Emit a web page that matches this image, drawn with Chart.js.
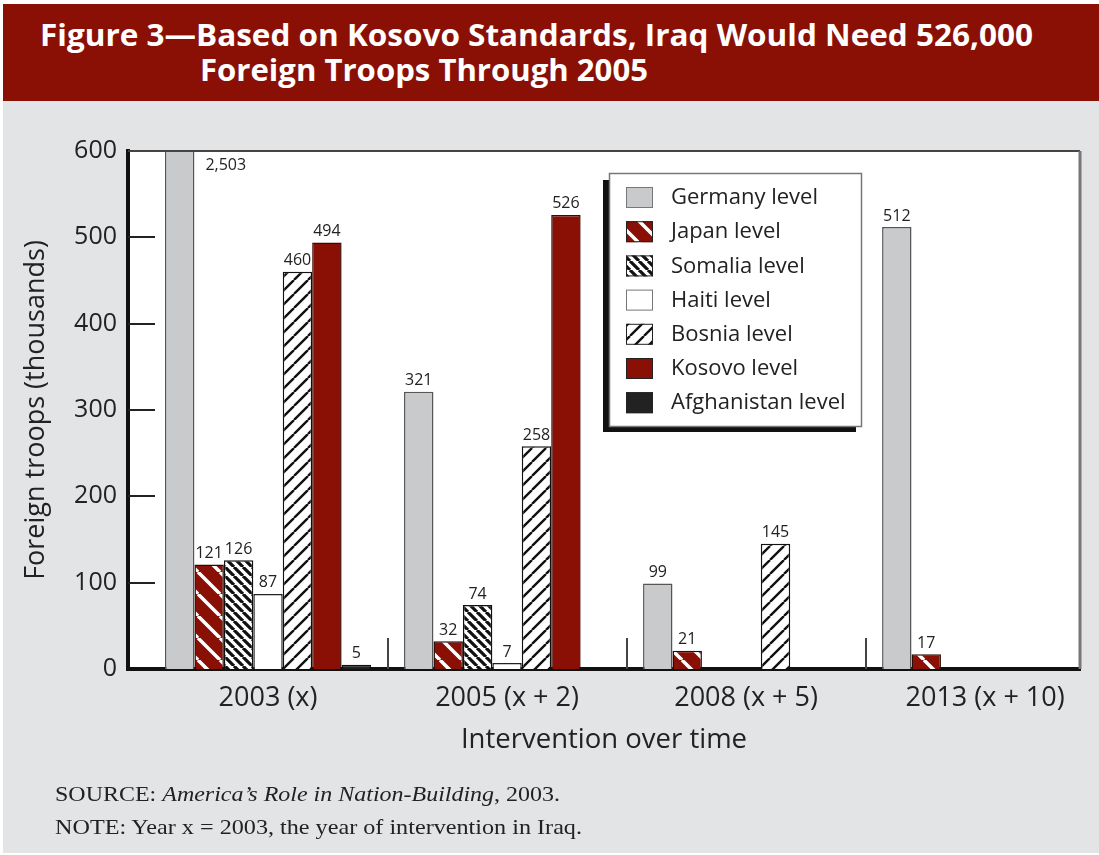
<!DOCTYPE html>
<html><head><meta charset="utf-8">
<script src="https://cdn.jsdelivr.net/npm/chart.js@4.4.1/dist/chart.umd.min.js"></script>
<style>
html,body{margin:0;padding:0;}
body{width:1099px;height:855px;background:#ffffff;position:relative;overflow:hidden;font-family:"Open Sans",sans-serif;}
#bg{position:absolute;left:3px;top:100px;width:1096px;height:753px;background:#E3E4E5;}
#banner{position:absolute;left:3px;top:4px;width:1096px;height:97px;background:#8A1005;}
.t{position:absolute;color:#fff;font:bold 30px/30px "Open Sans",sans-serif;white-space:nowrap;transform-origin:0 0;}
#c{position:absolute;left:0;top:0;}
.note{position:absolute;left:55px;font:22px/22px "Liberation Serif",serif;color:#222;white-space:nowrap;transform-origin:0 0;}
</style></head>
<body>
<div id="bg"></div>
<div id="banner"></div>
<span class="t" id="t1" style="left:40px;top:20px">Figure 3—Based on Kosovo Standards, Iraq Would Need 526,000</span>
<span class="t" id="t2" style="left:200px;top:55px">Foreign Troops Through 2005</span>
<canvas id="c" width="1099" height="855"></canvas>
<div class="note" id="n1" style="top:783px">SOURCE: <i>America’s Role in Nation-Building</i>, 2003.</div>
<div class="note" id="n2" style="top:816px">NOTE: Year x = 2003, the year of intervention in Iraq.</div>
<script>
// ---- data ----
const categories = ['2003 (x)', '2005 (x + 2)', '2008 (x + 5)', '2013 (x + 10)'];
const seriesNames = ['Germany level', 'Japan level', 'Somalia level', 'Haiti level', 'Bosnia level', 'Kosovo level', 'Afghanistan level'];
const germany = [2503, 321, 99, 512];
const japan = [121, 32, 21, 17];
const somalia = [126, 74, null, null];
const haiti = [87, 7, null, null];
const bosnia = [460, 258, 145, null];
const kosovo = [494, 526, null, null];
const afghanistan = [5, null, null, null];
const yTickValues = [0, 100, 200, 300, 400, 500, 600];

// ---- fit banner / notes widths ----
function fitWidth(id, target) {
  const el = document.getElementById(id);
  const w = el.getBoundingClientRect().width;
  el.style.transform = 'scaleX(' + (target / w) + ')';
}
fitWidth('t1', 993);
fitWidth('t2', 448);
fitWidth('n1', 505);
fitWidth('n2', 527);

// ---- patterns ----
function stripes(bg, fg, s, w, dir) {
  const c = document.createElement('canvas');
  c.width = s; c.height = s;
  const x = c.getContext('2d');
  x.fillStyle = bg; x.fillRect(0, 0, s, s);
  x.strokeStyle = fg; x.lineWidth = w;
  x.beginPath();
  for (let k = -1; k <= 1; k++) {
    if (dir === 'back') { x.moveTo(k * s, 0); x.lineTo(k * s + s, s); }
    else { x.moveTo(k * s, s); x.lineTo(k * s + s, 0); }
  }
  x.stroke();
  return x.createPattern(c, 'repeat');
}
const RED = '#8A1005';
const styles = [
  { bg: '#C9CACC', border: '#555' },
  { bg: stripes(RED, '#ffffff', 22, 3.5, 'back'), border: '#2a0a05' },
  { bg: stripes('#ffffff', '#111111', 9, 3.2, 'back'), border: '#111' },
  { bg: '#ffffff', border: '#222' },
  { bg: stripes('#ffffff', '#111111', 14, 2.4, 'fwd'), border: '#111' },
  { bg: RED, border: '#3a0a05' },
  { bg: '#222222', border: '#111' }
];
const seriesValues = [germany, japan, somalia, haiti, bosnia, kosovo, afghanistan];

const datasets = seriesValues.map((vals, si) => ({
  label: seriesNames[si],
  data: vals.map((v, i) => ({ x: i, y: v })),
  backgroundColor: styles[si].bg,
  borderColor: styles[si].border,
  borderWidth: 1.5,
  borderSkipped: 'bottom'
}));

// ---- plugins ----
const frame = {
  id: 'frame',
  beforeDraw(chart) {
    const { ctx, chartArea: a } = chart;
    ctx.save();
    ctx.fillStyle = '#ffffff';
    ctx.fillRect(a.left, a.top, a.right - a.left, a.bottom - a.top);
    ctx.restore();
  },
  afterDatasetsDraw(chart) {
    const { ctx, chartArea: a, scales } = chart;
    ctx.save();
    ctx.strokeStyle = '#444';
    ctx.lineWidth = 2;
    ctx.beginPath(); ctx.moveTo(a.left, a.top); ctx.lineTo(a.right, a.top); ctx.stroke();
    ctx.strokeStyle = '#777';
    ctx.lineWidth = 3;
    ctx.beginPath(); ctx.moveTo(a.right, a.top); ctx.lineTo(a.right, a.bottom); ctx.stroke();
    ctx.strokeStyle = '#222';
    ctx.lineWidth = 2;
    yTickValues.forEach(v => {
      if (v === 0 || v === 600) return;
      const y = Math.round(scales.y.getPixelForValue(v));
      ctx.beginPath(); ctx.moveTo(a.left, y); ctx.lineTo(a.left + 27, y); ctx.stroke();
    });
    ctx.strokeStyle = '#444';
    for (let i = 0; i < categories.length - 1; i++) {
      const x = Math.round(scales.x.getPixelForValue(i + 0.5));
      ctx.beginPath(); ctx.moveTo(x, a.bottom); ctx.lineTo(x, a.bottom - 31); ctx.stroke();
    }
    ctx.restore();
  }
};

const valueLabels = {
  id: 'valueLabels',
  afterDatasetsDraw(chart) {
    const { ctx, chartArea } = chart;
    const ymax = chart.scales.y.max;
    ctx.save();
    ctx.font = '16px "Open Sans"';
    ctx.fillStyle = '#222';
    ctx.textBaseline = 'middle';
    chart.data.datasets.forEach((ds, di) => {
      const meta = chart.getDatasetMeta(di);
      meta.data.forEach((el, i) => {
        const v = ds.data[i].y;
        if (v == null) return;
        const txt = v.toLocaleString('en-US');
        if (v > ymax) {
          ctx.textAlign = 'left';
          ctx.fillText(txt, el.x + el.width / 2 + 11, chartArea.top + 14);
        } else {
          ctx.textAlign = 'center';
          ctx.fillText(txt, el.x, el.y - 11);
        }
      });
    });
    ctx.restore();
  }
};

const boxLegend = {
  id: 'boxLegend',
  afterDraw(chart) {
    const { ctx, chartArea: a } = chart;
    const x = a.left + 481, y = a.top + 22, w = 253, h = 254;
    ctx.save();
    ctx.fillStyle = '#111';
    ctx.fillRect(x - 6, y + 7, w, h - 2);
    ctx.fillStyle = '#fff';
    ctx.fillRect(x, y, w, h);
    ctx.strokeStyle = '#777';
    ctx.lineWidth = 1.5;
    ctx.strokeRect(x + 0.5, y + 0.5, w - 1, h - 1);
    ctx.font = '22px "Open Sans"';
    ctx.textBaseline = 'middle';
    ctx.textAlign = 'left';
    chart.data.datasets.forEach((ds, i) => {
      const cy = y + 24 + i * 34.2;
      ctx.fillStyle = ds.backgroundColor;
      ctx.fillRect(x + 17, cy - 10, 27, 21);
      ctx.strokeStyle = i === 0 || i === 3 ? '#777' : '#222';
      ctx.lineWidth = 1;
      ctx.strokeRect(x + 17.5, cy - 9.5, 26, 20);
      ctx.fillStyle = '#222';
      ctx.fillText(ds.label, x + 62, cy + 1);
    });
    ctx.restore();
  }
};

const tickFont = { family: '"Open Sans", sans-serif', size: 27 };
const titleFont = { family: '"Open Sans", sans-serif', size: 27.5 };

new Chart(document.getElementById('c'), {
  type: 'bar',
  data: { datasets },
  options: {
    responsive: false,
    animation: false,
    layout: { padding: { top: 151, right: 19, bottom: 96, left: 0 } },
    datasets: { bar: { categoryPercentage: 0.862, barPercentage: 1 } },
    scales: {
      x: {
        type: 'linear',
        offset: false,
        min: -0.5858,
        max: 3.397,
        afterBuildTicks: s => { s.ticks = categories.map((c, i) => ({ value: i })); },
        afterFit: s => { s.height = 90; },
        ticks: {
          callback: (v, i) => categories[i],
          font: tickFont, color: '#222', padding: 13, autoSkip: false, maxRotation: 0
        },
        grid: { display: false, drawTicks: false, offset: false },
        border: { display: true, color: '#111', width: 4 },
        title: { display: true, text: 'Intervention over time', font: titleFont, color: '#222', padding: { top: 0, bottom: 2 } }
      },
      y: {
        min: 0,
        max: 600,
        afterBuildTicks: s => { s.ticks = yTickValues.map(v => ({ value: v })); },
        afterFit: s => { s.width = 128; },
        ticks: { font: { family: '"Open Sans", sans-serif', size: 25 }, color: '#222', padding: 11 },
        grid: { display: false, drawTicks: false },
        border: { display: true, color: '#111', width: 4 },
        title: { display: true, text: 'Foreign troops (thousands)', font: { family: '"Open Sans", sans-serif', size: 27 }, color: '#222', padding: { top: 20, bottom: 0 } }
      }
    },
    plugins: { legend: { display: false }, tooltip: { enabled: false } }
  },
  plugins: [frame, valueLabels, boxLegend]
});
</script>
</body></html>
